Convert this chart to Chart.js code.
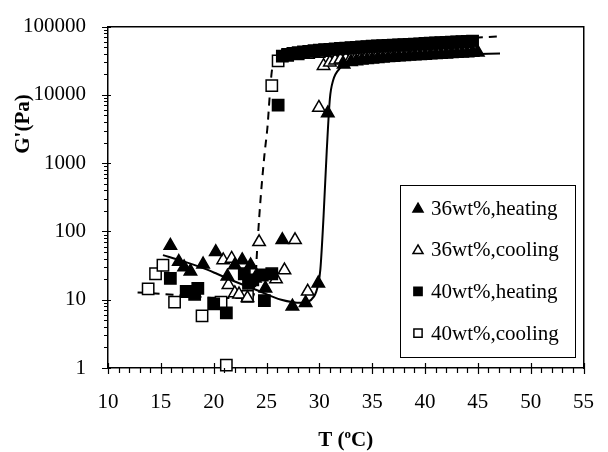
<!DOCTYPE html>
<html>
<head>
<meta charset="utf-8">
<script src="https://cdn.jsdelivr.net/npm/chart.js@4.4.1/dist/chart.umd.min.js"></script>
<style>
  html, body { margin: 0; padding: 0; background: #fff; }
</style>
</head>
<body>
<canvas id="myChart" width="608" height="452"></canvas>
<script>
// tick labels
const xTicks = [10, 15, 20, 25, 30, 35, 40, 45, 50, 55];
const yTicks = [1, 10, 100, 1000, 10000, 100000];

// 36wt%, heating
const tHeat36 = [15.9, 16.7, 17.2, 17.8, 19.0, 20.2, 21.3, 22.0, 22.7, 23.5, 23.9, 24.9, 26.5, 27.45, 28.7, 29.9, 30.8, 32.3,
  33, 33.5, 34, 34.5, 35, 35.5, 36, 36.5, 37, 37.5, 38, 38.5, 39, 39.5, 40, 40.5, 41, 41.5, 42, 42.5, 43, 43.5, 44, 44.5, 45];
const gHeat36 = [62, 36, 30, 26, 33, 50, 22, 32, 38, 32, 20.5, 14.7, 75, 8.0, 9.0, 17.4, 5400, 28000,
  30500, 31300, 32000, 32600, 33200, 33700, 34200, 34700, 35200, 35600, 36000, 36500, 36900, 37300, 37700, 38100,
  38500, 38900, 39300, 39700, 40100, 40500, 41000, 41500, 42000];

// 36wt%, cooling
const tCool36 = [20.9, 21.7, 21.4, 22.0, 22.4, 23.2, 24.3, 25.9, 26.7, 27.7, 28.9, 29.96, 30.4, 31.0,
  31.5, 32, 32.5, 33, 33.5, 34, 34.5, 35, 35.5, 36, 36.5, 37, 37.5, 38, 38.5, 39, 39.5, 40, 40.5, 41, 41.5, 42, 42.5, 43, 43.5, 44];
const gCool36 = [38, 40, 16.5, 12.5, 12, 10.6, 70, 20, 27, 75, 13.2, 6500, 26600, 30000,
  32000, 33000, 33800, 34500, 35200, 35800, 36400, 37000, 37600, 38100, 38600, 39100, 39600, 40100, 40600,
  41100, 41600, 42100, 42600, 43100, 43600, 44100, 44600, 45100, 45600, 46100];

// 40wt%, heating
const tHeat40 = [15.9, 17.4, 18.2, 18.5, 20.0, 21.2, 22.9, 23.3, 23.7, 24.6, 24.8, 25.5, 26.1,
  26.5, 27, 27.5, 28, 28.5, 29, 29.5, 30, 30.5, 31, 31.5, 32, 32.5, 33, 33.5, 34, 34.5, 35, 35.5, 36, 36.5,
  37, 37.5, 38, 38.5, 39, 39.5, 40, 40.5, 41, 41.5, 42, 42.5, 43, 43.5, 44, 44.5];
const gHeat40 = [20.5, 13.2, 12, 14.7, 8.7, 6.4, 24, 17.4, 19.5, 23, 9.7, 24, 7100,
  37000, 39000, 40500, 41500, 42500, 43500, 44300, 45000, 45800, 46500, 47200, 47900, 48500, 49100, 49700,
  50300, 50900, 51500, 52000, 52500, 53000, 53500, 54000, 54500, 55000, 55500, 56000, 56500, 57000, 57500,
  58000, 58500, 59000, 59500, 60000, 60500, 61000];

// 40wt%, cooling
const tCool40 = [13.8, 14.5, 15.2, 16.3, 18.9, 20.7, 21.2, 23.2, 25.5, 26.1,
  27, 28, 29, 30, 31, 32, 33, 34, 35, 36, 37, 38, 39, 40, 41, 42, 43, 44];
const gCool40 = [14.4, 24, 32, 9.2, 5.8, 9.2, 1.1, 11.2, 13700, 31400,
  38000, 40000, 41500, 43000, 44500, 46000, 47000, 48000, 49000, 50000, 51000, 52000, 53000, 54000, 55000, 56000, 57000, 58000];

// fitted curves
const fitT36 = [15.2, 17, 19, 20.3, 22, 24, 26.4, 28.3, 29.5, 29.9, 30.1, 30.4, 30.7, 31, 31.3, 32, 32.9, 35, 40, 44, 47.1];
const fitG36 = [45, 37, 29, 24, 18.5, 14, 10, 9, 11.2, 17, 28, 167, 1500, 8850, 16200, 25000, 31400, 34000, 37500, 39500, 40400];
const fitT40 = [12.8, 15, 18, 21, 23.5, 23.9, 24.1, 24.4, 24.8, 25.1, 25.3, 25.5, 25.8, 26.3, 27.5, 30, 35, 40, 44, 47];
const fitG40 = [12.8, 12.2, 11.2, 10.6, 10.6, 14, 50, 250, 1300, 3500, 9500, 22000, 36000, 42000, 47000, 51000, 57500, 63500, 68000, 71800];

const pts = (xs, ys) => xs.map((x, i) => ({ x: x, y: ys[i] }));

const serif = '"Liberation Serif", "Times New Roman", serif';

const series = [
  { label: '36wt%,heating', style: 'triangle', fill: '#000' },
  { label: '36wt%,cooling', style: 'triangle', fill: '#fff' },
  { label: '40wt%,heating', style: 'rect', fill: '#000' },
  { label: '40wt%,cooling', style: 'rect', fill: '#fff' }
];

function marker(ctx, style, x, y, r, fill) {
  ctx.save();
  ctx.beginPath();
  if (style === 'triangle') {
    ctx.moveTo(x, y - r);
    ctx.lineTo(x + r * 0.866, y + r * 0.5);
    ctx.lineTo(x - r * 0.866, y + r * 0.5);
    ctx.closePath();
  } else {
    const s = r * 0.707;
    ctx.rect(x - s, y - s, 2 * s, 2 * s);
  }
  ctx.fillStyle = fill;
  ctx.fill();
  ctx.lineWidth = 1.5;
  ctx.strokeStyle = '#000';
  ctx.stroke();
  ctx.restore();
}

// tick marks, axis titles and the boxed legend
const decorations = {
  id: 'decorations',
  afterDraw(chart) {
    const ctx = chart.ctx;
    const area = chart.chartArea;
    const xs = chart.scales.x;
    const ys = chart.scales.y;
    ctx.save();
    ctx.strokeStyle = '#000';
    ctx.lineWidth = 1.2;
    ctx.beginPath();
    for (let v = 10; v <= 55; v++) {
      const px = Math.round(xs.getPixelForValue(v)) + 0.5;
      if (v % 5 === 0) {
        ctx.moveTo(px, area.bottom - 5);
        ctx.lineTo(px, area.bottom + 6);
      } else {
        ctx.moveTo(px, area.bottom);
        ctx.lineTo(px, area.bottom + 5);
      }
    }
    for (let d = 1; d <= 100000; d *= 10) {
      for (let m = 1; m <= 9; m++) {
        const v = d * m;
        if (v > 100000) break;
        const py = Math.round(ys.getPixelForValue(v)) + 0.5;
        ctx.moveTo(area.left - (m === 1 ? 6 : 4), py);
        ctx.lineTo(area.left + (m === 1 ? 3 : 0), py);
      }
    }
    ctx.stroke();

    // axis titles
    ctx.fillStyle = '#000';
    ctx.textBaseline = 'alphabetic';
    ctx.font = 'bold 21px ' + serif;
    ctx.save();
    ctx.translate(29, 124);
    ctx.rotate(-Math.PI / 2);
    ctx.textAlign = 'center';
    ctx.fillText("G'(Pa)", 0, 0);
    ctx.restore();

    const a = 'T (', b = 'o', c = 'C)';
    const bigFont = 'bold 21px ' + serif;
    const smallFont = 'bold 13px ' + serif;
    ctx.font = bigFont;
    const wa = ctx.measureText(a).width, wc = ctx.measureText(c).width;
    ctx.font = smallFont;
    const wb = ctx.measureText(b).width;
    let x0 = (area.left + area.right) / 2 - (wa + wb + wc) / 2;
    const base = 446;
    ctx.textAlign = 'left';
    ctx.font = bigFont;
    ctx.fillText(a, x0, base);
    ctx.font = smallFont;
    ctx.fillText(b, x0 + wa, base - 8);
    ctx.font = bigFont;
    ctx.fillText(c, x0 + wa + wb, base);

    // legend box
    ctx.lineWidth = 1;
    ctx.strokeRect(400.5, 185.5, 175, 172);
    ctx.font = '21px ' + serif;
    ctx.textBaseline = 'middle';
    series.forEach((s, i) => {
      const y = 208 + i * 41.7;
      marker(ctx, s.style, 418, y + (s.style === 'triangle' ? 1 : 0), 5.8, s.fill);
      ctx.fillStyle = '#000';
      ctx.fillText(s.label, 431, y + 1);
    });
    ctx.restore();
  }
};

const markerSet = (label, xs, ys, style, fill, r) => ({
  label: label,
  data: pts(xs, ys),
  showLine: false,
  pointStyle: style,
  pointRadius: r,
  pointHoverRadius: r,
  pointBackgroundColor: fill,
  pointBorderColor: '#000',
  pointBorderWidth: 1.5,
  clip: false
});

new Chart(document.getElementById('myChart'), {
  type: 'scatter',
  data: {
    datasets: [
      markerSet('36wt%,heating', tHeat36, gHeat36, 'triangle', '#000', 7.2),
      markerSet('40wt%,heating', tHeat40, gHeat40, 'rect', '#000', 8),
      markerSet('36wt%,cooling', tCool36, gCool36, 'triangle', '#fff', 7.2),
      markerSet('40wt%,cooling', tCool40, gCool40, 'rect', '#fff', 8),
      {
        label: 'fit 36wt%',
        data: pts(fitT36, fitG36),
        showLine: true,
        borderColor: '#000',
        borderWidth: 2,
        pointRadius: 0,
        cubicInterpolationMode: 'monotone'
      },
      {
        label: 'fit 40wt%',
        data: pts(fitT40, fitG40),
        showLine: true,
        borderColor: '#000',
        borderWidth: 2,
        borderDash: [8, 6],
        pointRadius: 0,
        cubicInterpolationMode: 'monotone'
      }
    ]
  },
  options: {
    responsive: false,
    animation: false,
    layout: { padding: { left: 0, top: 20, right: 0, bottom: 0 } },
    plugins: { legend: { display: false }, tooltip: { enabled: false } },
    scales: {
      x: {
        type: 'linear',
        min: 10,
        max: 55,
        afterBuildTicks: s => { s.ticks = xTicks.map(v => ({ value: v })); },
        afterFit: s => { s.height = 84; },
        grid: { display: false },
        border: { display: true, color: '#000', width: 1.5 },
        ticks: { color: '#000', padding: 14, maxRotation: 0, font: { family: serif, size: 21 } }
      },
      y: {
        type: 'logarithmic',
        min: 1,
        max: 100000,
        afterBuildTicks: s => { s.ticks = yTicks.map(v => ({ value: v })); },
        afterFit: s => { s.width = 108; },
        grid: { display: false },
        border: { display: true, color: '#000', width: 1.5 },
        ticks: { color: '#000', padding: 14, font: { family: serif, size: 21 }, callback: v => String(v) }
      },
      x2: {
        type: 'linear', position: 'top', min: 10, max: 55, display: true,
        afterFit: s => { s.height = 0; },
        grid: { display: false }, ticks: { display: false },
        border: { display: true, color: '#000', width: 1.5 }
      },
      y2: {
        type: 'linear', position: 'right', min: 0, max: 1, display: true,
        afterFit: s => { s.width = 0; },
        grid: { display: false }, ticks: { display: false },
        border: { display: true, color: '#000', width: 1.5 }
      }
    }
  },
  plugins: [decorations]
});
</script>
</body>
</html>
